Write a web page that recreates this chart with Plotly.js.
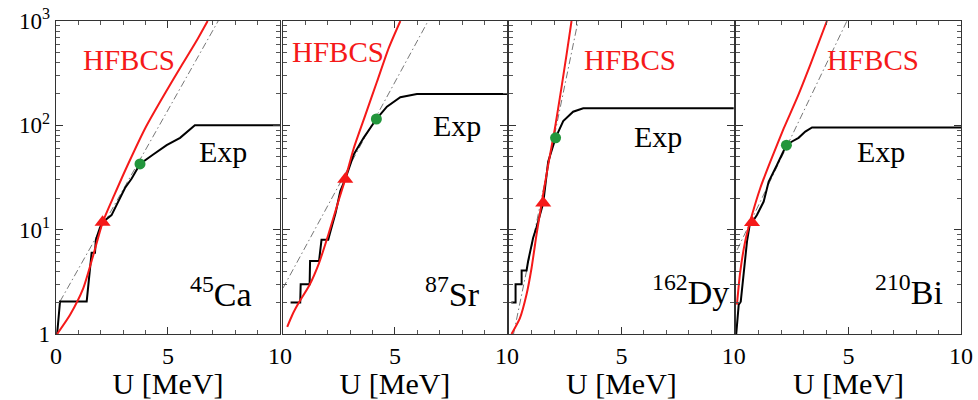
<!DOCTYPE html>
<html>
<head>
<meta charset="utf-8">
<script src="https://cdn.plot.ly/plotly-3.0.1.min.js"></script>
<style>html,body{margin:0;padding:0;background:#fff;}#chart{width:978px;height:400px;}</style>
</head>
<body>
<div id="chart"></div>
<script>
// ---- data ----
const nuclei = ['<sup>45</sup>Ca', '<sup>87</sup>Sr', '<sup>162</sup>Dy', '<sup>210</sup>Bi'];
const yTickVals = [1, 10, 100, 1000];
const yTickText = ['1', '10<sup>1</sup>', '10<sup>2</sup>', '10<sup>3</sup>'];
const xTickVals = [0, 5, 10];

// 45Ca
const caExpU = [0.05, 0.18, 1.37, 1.59, 1.74, 1.78, 1.96, 2.08, 2.48, 2.71, 3.08, 3.38, 3.75, 4.34, 4.94, 5.54, 6.2, 10];
const caExpN = [1, 2.05, 2.05, 6.0, 6.0, 8.0, 10.4, 11.8, 13.8, 17.4, 25.1, 30.9, 42.7, 52.5, 64.6, 75.9, 100, 100];
const caHfU = [0.05, 0.63, 1.22, 1.67, 2.08, 2.6, 3.2, 4.0, 4.85, 5.6, 6.25, 6.77];
const caHfN = [1, 1.53, 2.75, 5.75, 11.7, 21.4, 41.7, 95.5, 200, 372, 631, 1000];
const caCtU = [0.18, 7.24];
const caCtN = [2.05, 1000];
const caTri = [2.08, 11.8];
const caDot = [3.75, 42.7];

// 87Sr
const srExpU = [0.34, 0.77, 0.79, 1.19, 1.21, 1.61, 1.72, 2.02, 2.1, 2.35, 2.56, 2.78, 3.16, 3.6, 4.17, 4.64, 5.24, 5.98, 10];
const srExpN = [2, 2, 3, 3, 5, 5, 8, 8, 9.3, 14.5, 23.4, 30.5, 52.5, 75.9, 115, 151, 186, 200, 200];
const srHfU = [0.19, 0.42, 0.71, 1.16, 1.61, 2.05, 2.5, 2.78, 3.16, 3.68, 4.2, 4.72, 5.24];
const srHfN = [1.17, 1.53, 2.0, 2.88, 4.79, 9.33, 19.5, 30.5, 60.3, 126, 263, 550, 1000];
const srCtU = [0.0, 6.48];
const srCtN = [2.75, 1000];
const srTri = [2.78, 30.5];
const srDot = [4.17, 115];

// 162Dy
const dyExpU = [0.1, 0.29, 0.29, 0.56, 0.56, 0.78, 0.85, 0.97, 1.07, 1.22, 1.44, 1.52, 1.74, 2.07, 2.41, 2.85, 3.3, 10];
const dyExpN = [2, 2, 3, 3, 4.07, 4.07, 5.01, 6.61, 8.32, 10.5, 16.2, 18.0, 44.7, 75.9, 110, 135, 146, 146];
const dyHfU = [0.11, 0.48, 0.78, 1.0, 1.22, 1.44, 1.74, 2.04, 2.33, 2.56, 2.78];
const dyHfN = [1, 1.41, 2.4, 4.27, 8.91, 17.4, 41.7, 93.3, 229, 479, 1000];
const dyCtU = [0.2, 3.07];
const dyCtN = [1, 1000];
const dyTri = [1.52, 18.0];
const dyDot = [2.07, 75.9];

// 210Bi
const biExpU = [0.01, 0.12, 0.21, 0.34, 0.49, 0.61, 0.71, 0.93, 1.08, 1.23, 1.45, 1.6, 1.82, 2.04, 2.24, 2.49, 2.78, 3.08, 3.38, 10];
const biExpN = [1, 1.91, 2.04, 3.72, 7.76, 11.2, 11.7, 13.8, 16.2, 18.6, 28.8, 33.9, 41.7, 52.5, 64.6, 70, 75.9, 87.1, 95.5, 95.5];
const biHfU = [0.04, 0.19, 0.41, 0.71, 1.08, 1.52, 2.12, 2.71, 3.3, 4.04];
const biHfN = [1.91, 3.98, 7.76, 13.8, 25.1, 44.7, 93.3, 182, 380, 1000];
const biCtU = [0.05, 4.93];
const biCtN = [6.4, 1000];
const biTri = [0.71, 11.7];
const biDot = [2.24, 64.6];

const panels = [
  {expU: caExpU, expN: caExpN, hfU: caHfU, hfN: caHfN, ctU: caCtU, ctN: caCtN, tri: caTri, dot: caDot},
  {expU: srExpU, expN: srExpN, hfU: srHfU, hfN: srHfN, ctU: srCtU, ctN: srCtN, tri: srTri, dot: srDot},
  {expU: dyExpU, expN: dyExpN, hfU: dyHfU, hfN: dyHfN, ctU: dyCtU, ctN: dyCtN, tri: dyTri, dot: dyDot},
  {expU: biExpU, expN: biExpN, hfU: biHfU, hfN: biHfN, ctU: biCtU, ctN: biCtN, tri: biTri, dot: biDot}
];

// ---- styling / layout ----
const RED = 'rgb(245,25,25)';
const GREEN = 'rgb(34,150,60)';
const FONT = 'Liberation Serif';
const domains = [[0, 0.2475], [0.2508, 0.4983], [0.5006, 0.749], [0.7514, 1]];
// label positions [x (U), log10 y]
const labelPos = [
  {hf: [3.26, 2.63], exp: [7.45, 1.745], iso: [7.36, 0.40]},
  {hf: [2.47, 2.70], exp: [7.76, 2.0], iso: [7.58, 0.40]},
  {hf: [5.38, 2.63], exp: [6.61, 1.89], iso: [8.07, 0.42]},
  {hf: [6.08, 2.63], exp: [6.44, 1.745], iso: [7.67, 0.42]}
];

const minorY = [2,3,4,5,6,7,8,9,20,30,40,50,60,70,80,90,200,300,400,500,600,700,800,900];

const traces = [];
const layout = {
  width: 978, height: 400,
  margin: {l: 56, r: 17, t: 21, b: 66},
  paper_bgcolor: '#fff', plot_bgcolor: '#fff',
  showlegend: false,
  font: {family: FONT, color: '#000', size: 22},
  annotations: []
};

panels.forEach((p, i) => {
  const n = i + 1;
  const xa = n === 1 ? 'x' : 'x' + n;
  const ya = n === 1 ? 'y' : 'y' + n;
  traces.push({x: p.ctU, y: p.ctN, xaxis: xa, yaxis: ya, mode: 'lines', hoverinfo: 'skip',
    line: {color: '#777', width: 1, dash: '7px,3px,1.5px,3px'}});
  traces.push({x: p.expU, y: p.expN, xaxis: xa, yaxis: ya, mode: 'lines',
    line: {color: '#000', width: 2}});
  traces.push({x: p.hfU, y: p.hfN, xaxis: xa, yaxis: ya, mode: 'lines',
    line: {color: RED, width: 2, shape: 'spline', smoothing: 0.6}});
  traces.push({x: [p.tri[0]], y: [p.tri[1]], xaxis: xa, yaxis: ya, mode: 'markers',
    marker: {symbol: 'triangle-up', size: 14, color: RED}});
  traces.push({x: [p.dot[0]], y: [p.dot[1]], xaxis: xa, yaxis: ya, mode: 'markers',
    marker: {symbol: 'circle', size: 11, color: GREEN}});

  const axLine = {showline: true, linecolor: '#333', linewidth: 1.3, mirror: 'ticks',
    showgrid: false, zeroline: false, ticks: 'inside', tickcolor: '#333'};
  layout['xaxis' + (n === 1 ? '' : n)] = Object.assign({}, axLine, {
    domain: domains[i], anchor: ya, range: [0, 10],
    tickmode: 'array', tickvals: xTickVals,
    ticktext: n === 1 ? ['0', '5', '10'] : ['', '5', '10'],
    ticklen: 7, tickfont: {family: FONT, size: 24, color: '#000'},
    minor: {ticks: 'inside', ticklen: 4, dtick: 1, tick0: 0, tickcolor: '#555'},
    title: {text: 'U [MeV]', font: {family: FONT, size: 30, color: '#000'}, standoff: 5}
  });
  layout['yaxis' + (n === 1 ? '' : n)] = Object.assign({}, axLine, {
    anchor: xa, type: 'log', range: [0, 3],
    tickmode: 'array', tickvals: yTickVals,
    ticktext: yTickText, showticklabels: n === 1,
    ticklen: 7, tickfont: {family: FONT, size: 23, color: '#000'},
    minor: {ticks: 'inside', ticklen: 4, tickvals: minorY, tickcolor: '#555'}
  });

  const lp = labelPos[i];
  layout.annotations.push({xref: xa, yref: ya, x: lp.hf[0], y: lp.hf[1], text: 'HFBCS', showarrow: false,
    font: {family: FONT, size: 29, color: RED}});
  layout.annotations.push({xref: xa, yref: ya, x: lp.exp[0], y: lp.exp[1], text: 'Exp', showarrow: false,
    font: {family: FONT, size: 30, color: '#000'}});
  layout.annotations.push({xref: xa, yref: ya, x: lp.iso[0], y: lp.iso[1], text: nuclei[i], showarrow: false,
    font: {family: FONT, size: 34, color: '#000'}});
});

Plotly.newPlot('chart', traces, layout, {displayModeBar: false, staticPlot: true});
</script>
</body>
</html>
